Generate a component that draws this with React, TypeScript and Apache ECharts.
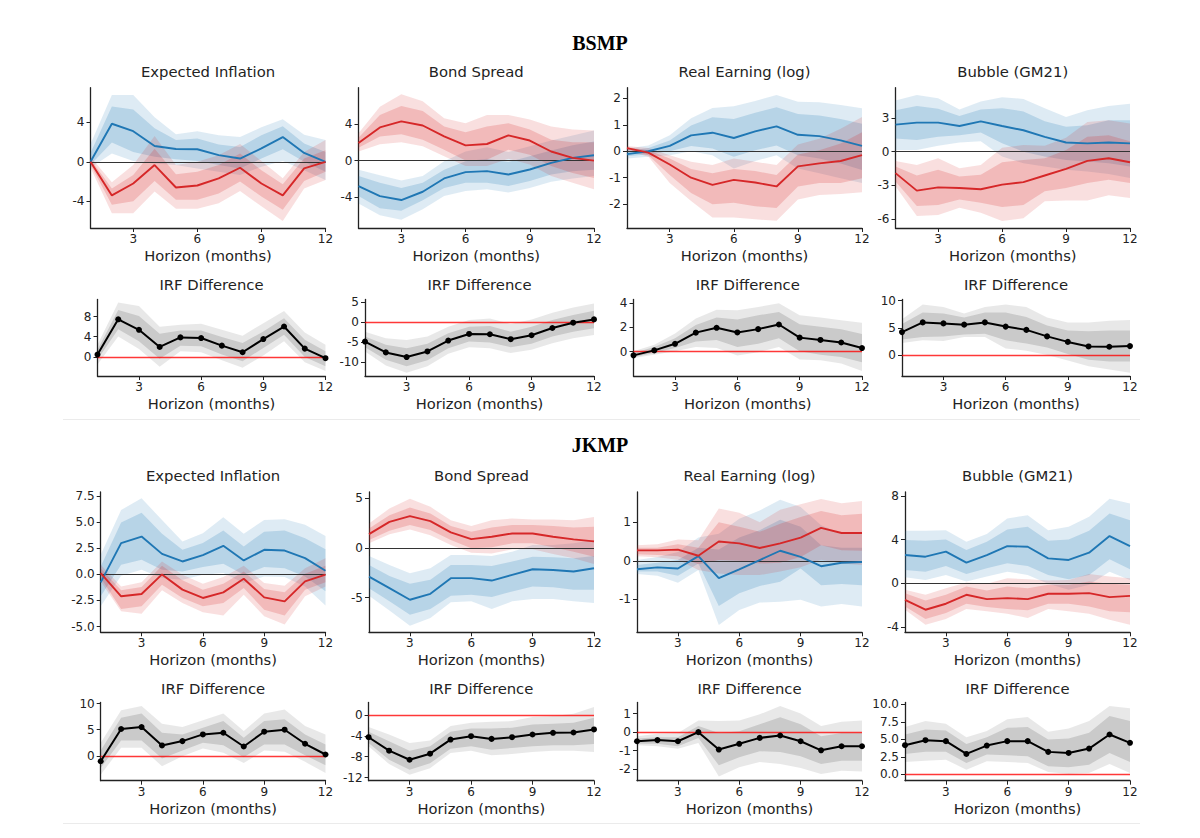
import React, { useEffect, useRef } from "react";
import * as echarts from "echarts";

// ---------------- data ----------------
const months = [1, 2, 3, 4, 5, 6, 7, 8, 9, 10, 11, 12];
const xTicks = [3, 6, 9, 12];

// BSMP — Expected Inflation
const bsInfBlue = [0, 3.85, 3.1, 1.6, 1.3, 1.27, 0.67, 0.33, 1.35, 2.5, 0.9, 0];
const bsInfBlueHi90 = [1.8, 6.75, 6.75, 4.5, 2.8, 3.1, 2.7, 2.5, 3.5, 4.3, 2.75, 2.2];
const bsInfBlueHi68 = [0.9, 5.6, 5.3, 3.4, 2.2, 2.35, 1.75, 1.5, 2.7, 3.6, 1.85, 1.0];
const bsInfBlueLo68 = [-0.3, 1.95, 1.0, 0.5, 0.27, 0.07, -0.33, -0.67, 0.33, 1.27, 0, -1.0];
const bsInfBlueLo90 = [-0.6, 0.85, 0.07, -0.17, -0.33, -0.67, -1.0, -1.33, -0.5, 0.07, -0.85, -1.85];
const bsInfRed = [0, -3.4, -2.2, -0.33, -2.6, -2.4, -1.67, -0.6, -2.2, -3.4, -0.67, 0];
const bsInfRedHi90 = [0.5, -2.07, -0.33, 2.6, -0.33, 0, 0.67, 1.8, 0.07, -1.67, 1.0, 2.2];
const bsInfRedHi68 = [0.25, -2.7, -1.33, 1.33, -1.27, -1.0, -0.33, 0.85, -0.85, -2.27, 0.33, 1.17];
const bsInfRedLo68 = [-0.3, -4.35, -4.0, -1.94, -3.85, -3.85, -3.2, -2.0, -3.5, -4.85, -1.94, -1.0];
const bsInfRedLo90 = [-0.6, -5.2, -5.2, -3.0, -4.75, -4.75, -4.2, -2.95, -4.5, -6.0, -2.7, -1.85];

// BSMP — Bond Spread
const bsSprBlue = [-2.8, -3.9, -4.33, -3.42, -1.96, -1.27, -1.16, -1.53, -0.98, -0.25, 0.3, 0.58];
const bsSprBlueHi90 = [-1.0, -1.6, -2.18, -1.7, -0.07, 1.0, 1.45, 0.95, 1.56, 2.2, 2.76, 3.3];
const bsSprBlueHi68 = [-1.7, -2.44, -3.0, -2.44, -1.0, -0.07, 0.2, -0.15, 0.47, 1.1, 1.67, 2.1];
const bsSprBlueLo68 = [-3.9, -5.24, -5.5, -4.36, -3.0, -2.44, -2.44, -2.8, -2.25, -1.53, -1.16, -1.0];
const bsSprBlueLo90 = [-4.7, -6.0, -6.5, -5.35, -3.9, -3.35, -3.16, -3.5, -3.0, -2.33, -1.96, -1.7];
const bsSprRed = [1.93, 3.64, 4.3, 3.85, 2.65, 1.67, 1.82, 2.76, 2.2, 1.0, 0.3, 0];
const bsSprRedHi90 = [3.0, 5.9, 7.27, 6.5, 4.65, 4.1, 5.0, 5.0, 4.5, 3.75, 3.4, 3.3];
const bsSprRedHi68 = [2.5, 5.0, 6.0, 5.45, 3.75, 3.1, 3.75, 4.1, 3.4, 2.3, 2.0, 2.0];
const bsSprRedLo68 = [1.4, 2.65, 2.9, 2.3, 1.2, 0, 0.1, 1.2, 0.65, -0.6, -1.35, -1.9];
const bsSprRedLo90 = [1.0, 1.8, 2.0, 1.56, 0.47, -0.6, -0.6, 0.2, -0.44, -1.7, -2.44, -3.16];

// BSMP — Real Earning (log)
const bsEarnBlue = [-0.11, 0, 0.2, 0.6, 0.7, 0.5, 0.75, 0.94, 0.62, 0.57, 0.41, 0.2];
const bsEarnBlueHi90 = [0.1, 0.22, 0.6, 1.25, 1.63, 1.7, 1.9, 2.12, 1.87, 1.85, 1.75, 1.62];
const bsEarnBlueHi68 = [0.01, 0.12, 0.41, 0.97, 1.28, 1.22, 1.45, 1.66, 1.41, 1.35, 1.22, 1.04];
const bsEarnBlueLo68 = [-0.19, -0.11, 0, 0.2, 0.1, -0.21, 0.04, 0.22, -0.15, -0.27, -0.46, -0.71];
const bsEarnBlueLo90 = [-0.27, -0.21, -0.15, 0, -0.15, -0.65, -0.37, -0.15, -0.65, -0.83, -1.02, -1.2];
const bsEarnRed = [0.12, -0.05, -0.5, -1.0, -1.27, -1.08, -1.18, -1.33, -0.57, -0.46, -0.37, -0.15];
const bsEarnRedHi90 = [0.2, 0.12, -0.15, -0.4, -0.52, -0.27, -0.4, -0.52, 0.25, 0.47, 0.85, 1.29];
const bsEarnRedHi68 = [0.16, 0.04, -0.27, -0.67, -0.83, -0.67, -0.75, -0.9, -0.12, 0.04, 0.29, 0.72];
const bsEarnRedLo68 = [0.07, -0.15, -0.9, -1.58, -2.0, -1.95, -2.08, -2.14, -1.33, -1.2, -1.2, -1.02];
const bsEarnRedLo90 = [0.04, -0.21, -1.2, -1.88, -2.5, -2.5, -2.57, -2.63, -1.82, -1.65, -1.62, -1.55];

// BSMP — Bubble (GM21)
const bsBubBlue = [2.41, 2.59, 2.59, 2.29, 2.7, 2.29, 1.91, 1.32, 0.82, 0.74, 0.82, 0.74];
const bsBubBlueHi90 = [4.56, 5.06, 4.76, 3.76, 4.47, 4.85, 4.7, 3.88, 3.09, 3.68, 4.06, 4.26];
const bsBubBlueHi68 = [3.68, 4.06, 3.82, 3.18, 3.76, 3.88, 3.59, 2.7, 2.21, 2.35, 2.79, 2.79];
const bsBubBlueLo68 = [1.18, 1.03, 1.32, 1.47, 1.71, 0.74, 0, -0.44, -0.74, -0.88, -1.03, -1.32];
const bsBubBlueLo90 = [0.15, 0.15, 0.53, 0.82, 0.94, -0.44, -1.03, -1.32, -1.62, -1.76, -2.0, -2.35];
const bsBubRed = [-1.91, -3.47, -3.18, -3.24, -3.35, -2.94, -2.71, -2.12, -1.53, -0.82, -0.59, -0.94];
const bsBubRedHi90 = [-0.82, -1.18, -0.59, -1.47, -1.18, 0.35, 0.59, 0.53, 1.24, 2.65, 2.79, 2.5];
const bsBubRedHi68 = [-1.32, -2.12, -1.62, -2.21, -2.06, -0.94, -0.74, -0.59, 0.15, 1.32, 1.47, 0.94];
const bsBubRedLo68 = [-2.65, -4.85, -4.76, -4.26, -4.56, -4.94, -4.76, -3.53, -3.24, -2.79, -2.5, -2.79];
const bsBubRedLo90 = [-3.09, -5.74, -5.65, -5.0, -5.44, -6.18, -5.94, -4.41, -4.35, -4.35, -3.88, -4.12];

// BSMP — IRF differences
const bsInfDiff = [0.46, 7.47, 5.38, 1.97, 3.87, 3.74, 2.23, 0.92, 3.54, 6.03, 1.64, -0.26];
const bsInfDiffHi90 = [2.4, 10.8, 10.1, 6.0, 6.36, 6.56, 5.38, 4.2, 6.7, 9.1, 4.85, 2.43];
const bsInfDiffHi68 = [1.44, 9.3, 8.13, 4.6, 5.25, 5.25, 3.93, 2.75, 5.05, 7.67, 3.41, 1.11];
const bsInfDiffLo68 = [-0.52, 5.5, 3.08, -0.39, 2.23, 2.1, 0.46, -0.85, 1.77, 4.4, 0, -1.84];
const bsInfDiffLo90 = [-1.5, 4.07, 1.57, -1.97, 1.11, 0.92, -0.66, -2.16, 0.26, 3.08, -1.05, -2.82];

const bsSprDiff = [-4.84, -7.54, -8.69, -7.3, -4.6, -2.95, -3.03, -4.26, -3.28, -1.48, -0.16, 0.66];
const bsSprDiffHi90 = [-2.38, -4.0, -4.43, -3.6, -1.15, 0.49, 0.9, -0.49, 0.66, 2.3, 3.6, 4.6];
const bsSprDiffHi68 = [-3.6, -5.66, -6.48, -5.4, -2.79, -1.15, -0.98, -2.38, -1.15, 0.49, 1.72, 2.79];
const bsSprDiffLo68 = [-6.23, -9.34, -10.98, -9.5, -6.48, -4.84, -5.08, -6.23, -5.4, -3.6, -2.38, -1.56];
const bsSprDiffLo90 = [-7.3, -10.82, -12.62, -10.98, -7.87, -6.23, -6.48, -7.7, -6.89, -5.25, -4.0, -3.2];

const bsEarnDiff = [-0.3, 0.11, 0.65, 1.57, 1.97, 1.59, 1.86, 2.24, 1.16, 0.97, 0.76, 0.3];
const bsEarnDiffHi90 = [0.03, 0.57, 1.51, 2.73, 3.46, 3.41, 3.68, 4.0, 3.0, 2.81, 2.6, 2.38];
const bsEarnDiffHi68 = [-0.11, 0.38, 1.11, 2.19, 2.81, 2.65, 3.0, 3.27, 2.27, 2.05, 1.84, 1.46];
const bsEarnDiffLo68 = [-0.43, -0.11, 0.3, 0.84, 0.97, 0.38, 0.65, 1.11, 0.03, -0.24, -0.43, -0.86];
const bsEarnDiffLo90 = [-0.51, -0.24, 0.03, 0.38, 0.3, -0.32, -0.05, 0.38, -0.65, -0.7, -0.97, -1.59];

const bsBubDiff = [4.23, 6.01, 5.83, 5.6, 6.01, 5.24, 4.64, 3.45, 2.44, 1.61, 1.55, 1.67];
const bsBubDiffHi90 = [6.6, 9.29, 8.81, 7.62, 8.81, 9.29, 8.81, 6.9, 6.0, 6.0, 6.31, 6.43];
const bsBubDiffHi68 = [5.71, 7.8, 7.62, 6.9, 7.8, 7.8, 7.02, 5.42, 4.52, 4.4, 4.52, 4.52];
const bsBubDiffLo68 = [2.86, 3.33, 3.45, 3.81, 3.93, 2.74, 2.14, 1.43, 0.24, -0.83, -1.13, -1.13];
const bsBubDiffLo90 = [2.26, 2.74, 2.62, 3.33, 3.33, 1.25, 0.83, 0.06, -0.95, -2.02, -2.62, -3.21];

// JKMP — Expected Inflation
const jkInfBlue = [-0.76, 3.0, 3.63, 1.97, 1.24, 1.85, 2.74, 1.34, 2.36, 2.29, 1.56, 0.35];
const jkInfBlueHi90 = [1.88, 6.18, 7.29, 5.22, 3.15, 3.95, 5.48, 3.89, 5.22, 5.29, 4.75, 3.69];
const jkInfBlueHi68 = [0.76, 4.97, 5.92, 3.89, 2.36, 3.0, 4.2, 2.68, 4.1, 4.2, 3.47, 2.42];
const jkInfBlueLo68 = [-2.1, 0.92, 1.4, 0.45, 0.29, 0.7, 1.02, -0.03, 0.7, 0.6, -0.19, -1.62];
const jkInfBlueLo90 = [-3.06, -0.13, 0.45, -0.35, -0.51, -0.03, 0.13, -0.83, -0.19, -0.25, -1.15, -2.99];
const jkInfRed = [0.13, -2.1, -1.88, 0, -1.46, -2.26, -1.72, -0.41, -2.2, -2.58, -0.67, -0.03];
const jkInfRedHi90 = [0.92, -1.15, -0.76, 1.24, -0.03, -0.89, -0.25, 0.83, -0.83, -1.08, 0.6, 1.56];
const jkInfRedHi68 = [0.6, -1.53, -1.21, 0.83, -0.57, -1.46, -0.89, 0.29, -1.4, -1.72, 0.06, 0.83];
const jkInfRedLo68 = [-0.35, -3.31, -3.06, -0.99, -2.26, -3.06, -2.74, -1.31, -3.38, -3.95, -1.46, -0.76];
const jkInfRedLo90 = [-0.67, -3.54, -3.76, -1.53, -2.74, -3.63, -3.95, -1.95, -4.01, -4.81, -2.1, -1.15];

// JKMP — Bond Spread
const jkSprBlue = [-2.88, -4.05, -5.22, -4.62, -3.04, -3.04, -3.28, -2.71, -2.14, -2.21, -2.37, -2.04];
const jkSprBlueHi90 = [-0.8, -1.7, -2.54, -2.04, -0.7, -0.7, -0.8, -0.37, 0.3, 0.3, 0.47, 0.8];
const jkSprBlueHi68 = [-1.7, -2.81, -3.61, -3.21, -1.7, -1.7, -1.81, -1.37, -0.87, -0.94, -1.04, -0.8];
const jkSprBlueLo68 = [-4.05, -5.38, -6.72, -6.15, -4.82, -4.72, -4.95, -4.38, -3.88, -3.95, -4.21, -4.21];
const jkSprBlueLo90 = [-4.82, -6.29, -7.83, -7.06, -5.48, -5.38, -6.15, -5.38, -5.15, -5.15, -5.38, -5.55];
const jkSprRed = [1.4, 2.64, 3.21, 2.71, 1.57, 0.9, 1.14, 1.47, 1.47, 1.14, 0.87, 0.67];
const jkSprRedHi90 = [2.47, 3.98, 4.98, 4.15, 2.81, 2.21, 2.81, 2.98, 2.88, 2.88, 2.81, 3.14];
const jkSprRedHi68 = [1.97, 3.31, 4.08, 3.48, 2.21, 1.64, 2.07, 2.31, 2.31, 2.21, 2.07, 2.14];
const jkSprRedLo68 = [0.8, 1.74, 2.31, 1.81, 0.8, -0.03, 0.07, 0.47, 0.47, 0.07, -0.37, -0.87];
const jkSprRedLo90 = [0.47, 1.4, 1.87, 1.3, 0.3, -0.47, -0.54, -0.13, -0.13, -0.6, -1.04, -1.6];

// JKMP — Real Earning (log)
const jkEarnBlue = [-0.22, -0.17, -0.2, 0.12, -0.45, -0.22, 0.02, 0.26, 0.1, -0.14, -0.05, -0.03];
const jkEarnBlueHi90 = [0.02, 0.1, 0.23, 0.6, 0.7, 1.09, 1.3, 1.58, 1.39, 0.92, 0.7, 0.75];
const jkEarnBlueHi68 = [-0.11, -0.05, 0.02, 0.34, 0.29, 0.6, 0.79, 1.06, 0.88, 0.4, 0.34, 0.34];
const jkEarnBlueLo68 = [-0.28, -0.28, -0.39, -0.07, -1.17, -0.84, -0.65, -0.54, -0.2, -0.63, -0.6, -0.63];
const jkEarnBlueLo90 = [-0.34, -0.39, -0.57, -0.24, -1.66, -1.27, -1.08, -1.06, -1.01, -1.18, -1.12, -1.18];
const jkEarnRed = [0.27, 0.27, 0.29, 0.13, 0.5, 0.45, 0.33, 0.45, 0.6, 0.85, 0.72, 0.72];
const jkEarnRedHi90 = [0.4, 0.43, 0.55, 0.53, 1.35, 1.24, 1.0, 1.32, 1.46, 1.6, 1.49, 1.55];
const jkEarnRedHi68 = [0.34, 0.34, 0.43, 0.34, 1.0, 0.88, 0.75, 0.96, 1.13, 1.29, 1.18, 1.22];
const jkEarnRedLo68 = [0.17, 0.15, 0.12, -0.09, 0.02, 0, -0.07, -0.05, 0.1, 0.4, 0.27, 0.26];
const jkEarnRedLo90 = [0.12, 0.09, 0.03, -0.24, -0.33, -0.37, -0.37, -0.28, -0.17, 0.03, -0.07, -0.11];

// JKMP — Bubble (GM21)
const jkBubBlue = [2.58, 2.43, 2.89, 1.88, 2.58, 3.4, 3.34, 2.28, 2.13, 2.8, 4.32, 3.4];
const jkBubBlueHi90 = [4.8, 4.8, 4.86, 3.8, 4.5, 5.93, 6.23, 4.86, 5.17, 6.08, 7.75, 7.3];
const jkBubBlueHi68 = [3.95, 3.89, 4.0, 3.04, 3.8, 4.92, 5.17, 3.89, 4.0, 4.8, 6.38, 5.78];
const jkBubBlueLo68 = [1.22, 1.06, 1.58, 0.85, 1.37, 1.82, 1.58, 0.76, 0.36, 0.76, 2.19, 1.28];
const jkBubBlueLo90 = [0.55, 0.3, 0.76, 0.15, 0.61, 1.06, 0.76, -0.06, -0.61, -0.15, 1.06, 0.3];
const jkBubRed = [-1.52, -2.43, -1.88, -1.06, -1.46, -1.37, -1.46, -0.97, -0.97, -0.91, -1.28, -1.16];
const jkBubRedHi90 = [-0.61, -1.06, -0.46, 0.06, -0.06, 0.46, 0.36, 0.24, 0.3, 0.85, 0.61, 0.46];
const jkBubRedHi68 = [-0.91, -1.58, -1.06, -0.3, -0.67, -0.3, -0.46, -0.15, -0.15, 0.15, -0.06, -0.15];
const jkBubRedLo68 = [-2.13, -3.28, -2.74, -1.88, -2.19, -2.37, -2.49, -1.88, -1.88, -2.13, -2.58, -2.67];
const jkBubRedLo90 = [-2.43, -3.8, -3.28, -2.37, -2.58, -2.8, -3.19, -2.37, -2.58, -2.8, -3.34, -3.8];

// JKMP — IRF differences
const jkInfDiff = [-1.03, 5.13, 5.51, 1.99, 2.82, 4.1, 4.42, 1.79, 4.62, 5.0, 2.31, 0.26];
const jkInfDiffHi90 = [2.5, 8.72, 9.55, 6.15, 5.5, 6.8, 8.08, 4.74, 8.08, 8.85, 5.7, 4.1];
const jkInfDiffHi68 = [1.03, 7.3, 8.08, 4.42, 4.1, 5.38, 6.67, 3.46, 6.67, 6.99, 4.1, 2.18];
const jkInfDiffLo68 = [-2.31, 2.95, 2.95, -0.51, 1.03, 2.5, 2.05, -0.26, 2.18, 2.18, 0.13, -1.79];
const jkInfDiffLo90 = [-3.59, 1.54, 1.54, -1.99, -0.06, 1.41, 0.58, -1.35, 1.03, 0.77, -1.15, -3.27];

const jkSprDiff = [-4.26, -6.84, -8.58, -7.42, -4.71, -4.06, -4.58, -4.26, -3.74, -3.42, -3.35, -2.77];
const jkSprDiffHi90 = [-2.32, -3.74, -5.35, -4.9, -2.13, -1.48, -1.29, -1.16, -0.39, -0.19, 0.26, 1.55];
const jkSprDiffHi68 = [-3.23, -5.03, -6.84, -6.0, -3.23, -2.58, -2.58, -2.45, -1.81, -1.68, -1.48, -0.52];
const jkSprDiffLo68 = [-5.35, -8.58, -10.52, -9.23, -6.45, -6.0, -6.65, -6.32, -6.0, -5.81, -5.81, -5.55];
const jkSprDiffLo90 = [-6.0, -9.42, -11.48, -10.19, -7.29, -6.84, -7.74, -7.48, -7.1, -6.84, -6.84, -7.1];

const jkEarnDiff = [-0.49, -0.43, -0.49, 0, -0.94, -0.63, -0.31, -0.18, -0.49, -0.98, -0.76, -0.76];
const jkEarnDiffHi90 = [-0.22, -0.09, -0.04, 0.63, 0.6, 0.63, 0.96, 1.41, 1.0, 0.33, 0.56, 0.63];
const jkEarnDiffHi68 = [-0.34, -0.27, -0.27, 0.33, -0.04, 0.05, 0.42, 0.81, 0.42, -0.22, -0.04, -0.04];
const jkEarnDiffLo68 = [-0.63, -0.63, -0.76, -0.31, -1.79, -1.36, -1.03, -1.07, -1.3, -1.72, -1.54, -1.54];
const jkEarnDiffLo90 = [-0.71, -0.76, -0.89, -0.58, -2.39, -1.9, -1.61, -1.72, -1.93, -2.26, -2.08, -2.12];

const jkBubDiff = [4.16, 4.88, 4.74, 2.92, 4.11, 4.74, 4.74, 3.21, 3.06, 3.68, 5.69, 4.5];
const jkBubDiffHi90 = [6.75, 7.61, 7.22, 5.31, 6.17, 7.85, 8.18, 6.08, 6.56, 7.61, 9.76, 9.43];
const jkBubDiffHi68 = [5.69, 6.41, 6.27, 4.35, 5.31, 6.65, 6.75, 4.98, 5.12, 5.93, 8.33, 7.61];
const jkBubDiffLo68 = [2.92, 3.21, 3.21, 1.63, 2.82, 2.73, 2.58, 1.15, 1.0, 1.39, 3.06, 1.77];
const jkBubDiffLo90 = [1.77, 1.96, 2.1, 0.67, 1.87, 1.77, 1.63, 0.33, 0.05, 0.19, 1.48, 0.19];

// titles and y ticks
const groupTitles = ["BSMP", "JKMP"];
const varTitles = ["Expected Inflation", "Bond Spread", "Real Earning (log)", "Bubble (GM21)"];
const diffTitle = "IRF Difference";
const xName = "Horizon (months)";

const band = (line, lo90, hi90, lo68, hi68) => ({ line, lo90, hi90, lo68, hi68 });

const panels = [
  { kind: "irf", row: 0, col: 0, yMin: -6.7, yMax: 7.5, ticks: [-4, 0, 4], dec: 0,
    blue: band(bsInfBlue, bsInfBlueLo90, bsInfBlueHi90, bsInfBlueLo68, bsInfBlueHi68),
    red: band(bsInfRed, bsInfRedLo90, bsInfRedHi90, bsInfRedLo68, bsInfRedHi68) },
  { kind: "irf", row: 0, col: 1, yMin: -7.4, yMax: 8.0, ticks: [-4, 0, 4], dec: 0,
    blue: band(bsSprBlue, bsSprBlueLo90, bsSprBlueHi90, bsSprBlueLo68, bsSprBlueHi68),
    red: band(bsSprRed, bsSprRedLo90, bsSprRedHi90, bsSprRedLo68, bsSprRedHi68) },
  { kind: "irf", row: 0, col: 2, yMin: -2.9, yMax: 2.4, ticks: [-2, -1, 0, 1, 2], dec: 0,
    blue: band(bsEarnBlue, bsEarnBlueLo90, bsEarnBlueHi90, bsEarnBlueLo68, bsEarnBlueHi68),
    red: band(bsEarnRed, bsEarnRedLo90, bsEarnRedHi90, bsEarnRedLo68, bsEarnRedHi68) },
  { kind: "irf", row: 0, col: 3, yMin: -6.8, yMax: 5.7, ticks: [-6, -3, 0, 3], dec: 0,
    blue: band(bsBubBlue, bsBubBlueLo90, bsBubBlueHi90, bsBubBlueLo68, bsBubBlueHi68),
    red: band(bsBubRed, bsBubRedLo90, bsBubRedHi90, bsBubRedLo68, bsBubRedHi68) },
  { kind: "diff", row: 1, col: 0, yMin: -3.8, yMax: 11.4, ticks: [0, 4, 8], dec: 0,
    gray: band(bsInfDiff, bsInfDiffLo90, bsInfDiffHi90, bsInfDiffLo68, bsInfDiffHi68) },
  { kind: "diff", row: 1, col: 1, yMin: -13.4, yMax: 5.6, ticks: [-10, -5, 0, 5], dec: 0,
    gray: band(bsSprDiff, bsSprDiffLo90, bsSprDiffHi90, bsSprDiffLo68, bsSprDiffHi68) },
  { kind: "diff", row: 1, col: 2, yMin: -2.0, yMax: 4.3, ticks: [0, 2, 4], dec: 0,
    gray: band(bsEarnDiff, bsEarnDiffLo90, bsEarnDiffHi90, bsEarnDiffLo68, bsEarnDiffHi68) },
  { kind: "diff", row: 1, col: 3, yMin: -3.8, yMax: 10.2, ticks: [0, 5, 10], dec: 0,
    gray: band(bsBubDiff, bsBubDiffLo90, bsBubDiffHi90, bsBubDiffLo68, bsBubDiffHi68) },
  { kind: "irf", row: 2, col: 0, yMin: -5.55, yMax: 7.9, ticks: [-5, -2.5, 0, 2.5, 5, 7.5], dec: 1,
    blue: band(jkInfBlue, jkInfBlueLo90, jkInfBlueHi90, jkInfBlueLo68, jkInfBlueHi68),
    red: band(jkInfRed, jkInfRedLo90, jkInfRedHi90, jkInfRedLo68, jkInfRedHi68) },
  { kind: "irf", row: 2, col: 1, yMin: -8.5, yMax: 5.65, ticks: [-5, 0, 5], dec: 0,
    blue: band(jkSprBlue, jkSprBlueLo90, jkSprBlueHi90, jkSprBlueLo68, jkSprBlueHi68),
    red: band(jkSprRed, jkSprRedLo90, jkSprRedHi90, jkSprRedLo68, jkSprRedHi68) },
  { kind: "irf", row: 2, col: 2, yMin: -1.85, yMax: 1.78, ticks: [-1, 0, 1], dec: 0,
    blue: band(jkEarnBlue, jkEarnBlueLo90, jkEarnBlueHi90, jkEarnBlueLo68, jkEarnBlueHi68),
    red: band(jkEarnRed, jkEarnRedLo90, jkEarnRedHi90, jkEarnRedLo68, jkEarnRedHi68) },
  { kind: "irf", row: 2, col: 3, yMin: -4.5, yMax: 8.36, ticks: [-4, 0, 4, 8], dec: 0,
    blue: band(jkBubBlue, jkBubBlueLo90, jkBubBlueHi90, jkBubBlueLo68, jkBubBlueHi68),
    red: band(jkBubRed, jkBubRedLo90, jkBubRedHi90, jkBubRedLo68, jkBubRedHi68) },
  { kind: "diff", row: 3, col: 0, yMin: -4.75, yMax: 10.2, ticks: [0, 5, 10], dec: 0,
    gray: band(jkInfDiff, jkInfDiffLo90, jkInfDiffHi90, jkInfDiffLo68, jkInfDiffHi68) },
  { kind: "diff", row: 3, col: 1, yMin: -12.6, yMax: 2.4, ticks: [-12, -8, -4, 0], dec: 0,
    gray: band(jkSprDiff, jkSprDiffLo90, jkSprDiffHi90, jkSprDiffLo68, jkSprDiffHi68) },
  { kind: "diff", row: 3, col: 2, yMin: -2.62, yMax: 1.6, ticks: [-2, -1, 0, 1], dec: 0,
    gray: band(jkEarnDiff, jkEarnDiffLo90, jkEarnDiffHi90, jkEarnDiffLo68, jkEarnDiffHi68) },
  { kind: "diff", row: 3, col: 3, yMin: -0.9, yMax: 10.25, ticks: [0, 2.5, 5, 7.5, 10], dec: 1,
    gray: band(jkBubDiff, jkBubDiffLo90, jkBubDiffHi90, jkBubDiffLo68, jkBubDiffHi68) },
];

// ---------------- layout / style ----------------
const colRight = [325.5, 594, 862, 1130];
const rowLeft = [
  [90.5, 358.5, 627, 895.5],
  [97.5, 365, 633.5, 902],
  [100.7, 369, 637, 905],
  [100.7, 368.6, 637, 905],
];
const rowTop = [87.7, 299.5, 492, 702.5];
const rowBottom = [228, 376, 632.3, 780.7];
const titleY = [71.7, 284.5, 475, 688];
const groupTitleY = [43, 445];
const separatorY = [419.5, 823.5];

const FONT = "'DejaVu Sans', Verdana, sans-serif";
const INK = "#222";
const BLUE = "#1f77b4";
const RED = "#d62728";

function bandSeries(idx, lo, hi, fill) {
  return {
    type: "custom",
    xAxisIndex: idx,
    yAxisIndex: idx,
    silent: true,
    clip: true,
    z: 1,
    data: months.map((m, k) => [m, lo[k], hi[k]]),
    encode: { x: 0, y: [1, 2] },
    renderItem: (params, api) => {
      if (params.dataIndex !== 0) return null;
      const upper = months.map((m, k) => api.coord([m, hi[k]]));
      const lower = months.map((m, k) => api.coord([m, lo[k]])).reverse();
      return {
        type: "polygon",
        shape: { points: upper.concat(lower) },
        style: { fill },
        silent: true,
      };
    },
  };
}

function lineSeries(idx, values, color, width, extra = {}) {
  return {
    type: "line",
    xAxisIndex: idx,
    yAxisIndex: idx,
    silent: true,
    z: 3,
    data: months.map((m, k) => [m, values[k]]),
    showSymbol: false,
    symbol: "none",
    lineStyle: { color, width },
    itemStyle: { color },
    ...extra,
  };
}

function zeroMark(color, width) {
  return {
    silent: true,
    symbol: "none",
    z: 2,
    label: { show: false },
    emphasis: { disabled: true },
    lineStyle: { color, width, type: "solid" },
    data: [{ yAxis: 0 }],
  };
}

function buildOption() {
  const grid = [];
  const xAxis = [];
  const yAxis = [];
  const series = [];
  const elements = [];

  panels.forEach((p, i) => {
    const left = rowLeft[p.row][p.col];
    const right = colRight[p.col];
    const top = rowTop[p.row];
    const height = rowBottom[p.row] - top;
    grid.push({ left, top, width: right - left, height, containLabel: false });

    xAxis.push({
      gridIndex: i,
      type: "value",
      min: 1,
      max: 12,
      name: xName,
      nameLocation: "middle",
      nameGap: 20,
      nameTextStyle: { fontSize: 14.7, color: INK, fontFamily: FONT },
      axisLine: { show: true, onZero: false, lineStyle: { color: INK, width: 1.3 } },
      axisTick: { show: true, inside: false, length: 4, customValues: xTicks, lineStyle: { color: INK, width: 1 } },
      axisLabel: { show: true, customValues: xTicks, fontSize: 12, color: INK, fontFamily: FONT, margin: 5 },
      splitLine: { show: false },
    });

    yAxis.push({
      gridIndex: i,
      type: "value",
      min: p.yMin,
      max: p.yMax,
      axisLine: { show: true, onZero: false, lineStyle: { color: INK, width: 1.3 } },
      axisTick: { show: true, inside: false, length: 4, customValues: p.ticks, lineStyle: { color: INK, width: 1 } },
      axisLabel: {
        show: true,
        customValues: p.ticks,
        fontSize: 12,
        color: INK,
        fontFamily: FONT,
        margin: 6,
        formatter: (v) => (p.dec ? Number(v).toFixed(p.dec) : String(Math.round(v))),
      },
      splitLine: { show: false },
    });

    if (p.kind === "irf") {
      series.push(bandSeries(i, p.blue.lo90, p.blue.hi90, "rgba(31,119,180,0.15)"));
      series.push(bandSeries(i, p.blue.lo68, p.blue.hi68, "rgba(31,119,180,0.2)"));
      series.push(bandSeries(i, p.red.lo90, p.red.hi90, "rgba(214,39,40,0.15)"));
      series.push(bandSeries(i, p.red.lo68, p.red.hi68, "rgba(214,39,40,0.2)"));
      series.push(lineSeries(i, p.blue.line, BLUE, 1.9, { markLine: zeroMark("#333", 1.1) }));
      series.push(lineSeries(i, p.red.line, RED, 1.9));
    } else {
      series.push(bandSeries(i, p.gray.lo90, p.gray.hi90, "rgba(0,0,0,0.09)"));
      series.push(bandSeries(i, p.gray.lo68, p.gray.hi68, "rgba(0,0,0,0.13)"));
      series.push(
        lineSeries(i, p.gray.line, "#000", 2, {
          showSymbol: true,
          symbol: "circle",
          symbolSize: 6,
          z: 4,
          markLine: zeroMark("rgba(255,0,0,0.78)", 1.4),
        })
      );
    }

    elements.push({
      type: "text",
      silent: true,
      x: (left + right) / 2,
      y: titleY[p.row],
      style: {
        text: p.kind === "irf" ? varTitles[p.col] : diffTitle,
        fill: INK,
        fontSize: 14.8,
        fontFamily: FONT,
        align: "center",
        verticalAlign: "middle",
        textAlign: "center",
        textVerticalAlign: "middle",
      },
    });
  });

  groupTitles.forEach((t, g) => {
    elements.push({
      type: "text",
      silent: true,
      x: 600,
      y: groupTitleY[g],
      style: {
        text: t,
        fill: "#000",
        fontSize: 20,
        fontWeight: "bold",
        fontFamily: "'Liberation Serif', 'Times New Roman', serif",
        align: "center",
        verticalAlign: "middle",
        textAlign: "center",
        textVerticalAlign: "middle",
      },
    });
  });

  separatorY.forEach((y) => {
    elements.push({
      type: "line",
      silent: true,
      shape: { x1: 63, y1: y, x2: 1140, y2: y },
      style: { stroke: "#ebebeb", lineWidth: 1 },
    });
  });

  return {
    animation: false,
    backgroundColor: "#ffffff",
    textStyle: { fontFamily: FONT },
    grid,
    xAxis,
    yAxis,
    series,
    graphic: { elements },
  };
}

export default function App() {
  const ref = useRef<HTMLDivElement>(null);
  useEffect(() => {
    if (!ref.current) return;
    const chart = echarts.init(ref.current, null, { renderer: "svg", width: 1200, height: 838 });
    chart.setOption(buildOption());
    return () => chart.dispose();
  }, []);
  return (
    <div
      ref={ref}
      style={{ position: "absolute", left: 0, top: 0, width: 1200, height: 838, background: "#fff" }}
    />
  );
}
